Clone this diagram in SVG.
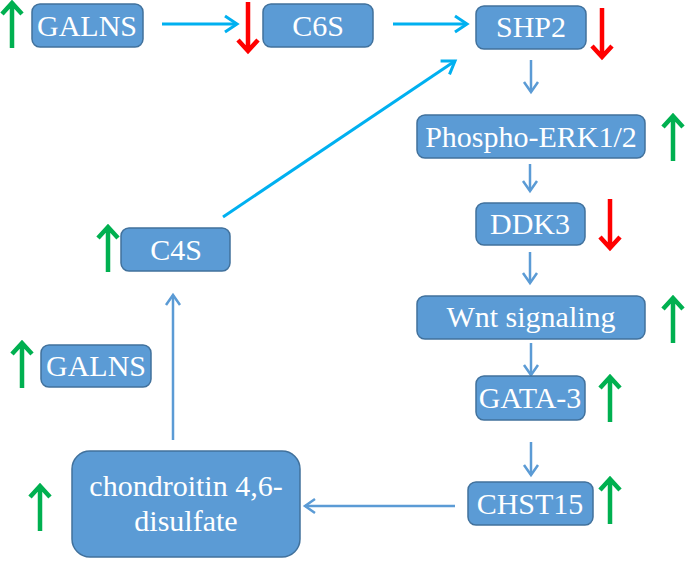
<svg xmlns="http://www.w3.org/2000/svg" xmlns:xlink="http://www.w3.org/1999/xlink" width="685" height="562" viewBox="0 0 685 562">
<style>
.box{fill:#5B9BD5;stroke:#41719C;stroke-width:1.5}
.cy{stroke:#00B0F0;stroke-width:3;fill:none;marker-end:url(#hc)}
.bl{stroke:#5B9BD5;stroke-width:2.5;fill:none;marker-end:url(#hb)}
.up{stroke:#00B050;stroke-width:4.5;fill:none}
.dn{stroke:#FF0000;stroke-width:4.5;fill:none}
</style>
<defs>
<marker id="hc" markerUnits="userSpaceOnUse" viewBox="-14 -10 16 20" refX="0" refY="0" markerWidth="16" markerHeight="20" orient="auto" overflow="visible">
<path d="M-12,-8 L0,0 L-12,8" fill="none" stroke="#00B0F0" stroke-width="3"/>
</marker>
<marker id="hb" markerUnits="userSpaceOnUse" viewBox="-14 -10 16 20" refX="0" refY="0" markerWidth="16" markerHeight="20" orient="auto" overflow="visible">
<path d="M-10,-7 L0,0 L-10,7" fill="none" stroke="#5B9BD5" stroke-width="2.5"/>
</marker>
<path id="upA" class="up" d="M0,48 V3 M-10,14 L0,3 L10,14"/>
<path id="dnA" class="dn" d="M0,0 V49 M-10,38 L0,49 L10,38"/>
</defs>

<g id="connectors">
<path class="cy" d="M162,24 H237"/>
<path class="cy" d="M393,24 H467"/>
<path class="cy" d="M223,217 L455,61"/>
<path class="bl" d="M531,60 V92"/>
<path class="bl" d="M530,164 V191"/>
<path class="bl" d="M530,252 V283"/>
<path class="bl" d="M531,343 V375"/>
<path class="bl" d="M531,442 V475"/>
<path class="bl" d="M455,506 H305"/>
<path class="bl" d="M173,440 V295"/>
</g>

<g font-family="Liberation Serif" font-size="30" fill="#FFFFFF" text-anchor="middle">
<g id="galns1">
<rect class="box" x="32" y="4" width="111" height="43" rx="8"/>
<text x="87" y="36" font-family="Liberation Serif">GALNS</text>
<use xlink:href="#upA" x="12" y="0"/>
</g>
<g id="c6s">
<rect class="box" x="263" y="4" width="110" height="43" rx="8"/>
<text x="318" y="36" font-family="Liberation Serif">C6S</text>
<use xlink:href="#dnA" x="248" y="2"/>
</g>
<g id="shp2">
<rect class="box" x="476" y="6" width="110" height="43" rx="8"/>
<text x="531" y="37" font-family="Liberation Serif">SHP2</text>
<use xlink:href="#dnA" x="602" y="8"/>
</g>
<g id="erk">
<rect class="box" x="417" y="115" width="228" height="43" rx="8"/>
<text x="531" y="147" font-family="Liberation Serif">Phospho-ERK1/2</text>
<use xlink:href="#upA" x="673" y="113"/>
</g>
<g id="ddk3">
<rect class="box" x="476" y="203" width="109" height="42" rx="8"/>
<text x="530" y="234" font-family="Liberation Serif">DDK3</text>
<use xlink:href="#dnA" x="610" y="199"/>
</g>
<g id="wnt">
<rect class="box" x="417" y="296" width="228" height="43" rx="8"/>
<text x="531" y="327" font-family="Liberation Serif">Wnt signaling</text>
<use xlink:href="#upA" x="673" y="295"/>
</g>
<g id="gata3">
<rect class="box" x="476" y="376" width="109" height="44" rx="8"/>
<text x="530" y="408" font-family="Liberation Serif">GATA-3</text>
<use xlink:href="#upA" x="610" y="374"/>
</g>
<g id="chst15">
<rect class="box" x="468" y="482" width="125" height="43" rx="8"/>
<text x="530" y="514" font-family="Liberation Serif">CHST15</text>
<use xlink:href="#upA" x="610" y="476"/>
</g>
<g id="chondroitin">
<rect class="box" x="72" y="451" width="228" height="106" rx="18"/>
<text x="186" y="496" font-family="Liberation Serif">chondroitin 4,6-</text>
<text x="186" y="531" font-family="Liberation Serif">disulfate</text>
<use xlink:href="#upA" x="40" y="483"/>
</g>
<g id="c4s">
<rect class="box" x="121" y="228" width="109" height="43" rx="8"/>
<text x="176" y="260" font-family="Liberation Serif">C4S</text>
<use xlink:href="#upA" x="108" y="224"/>
</g>
<g id="galns2">
<rect class="box" x="41" y="345" width="110" height="42" rx="8"/>
<text x="96" y="376" font-family="Liberation Serif">GALNS</text>
<use xlink:href="#upA" x="22" y="340"/>
</g>
</g>
</svg>
